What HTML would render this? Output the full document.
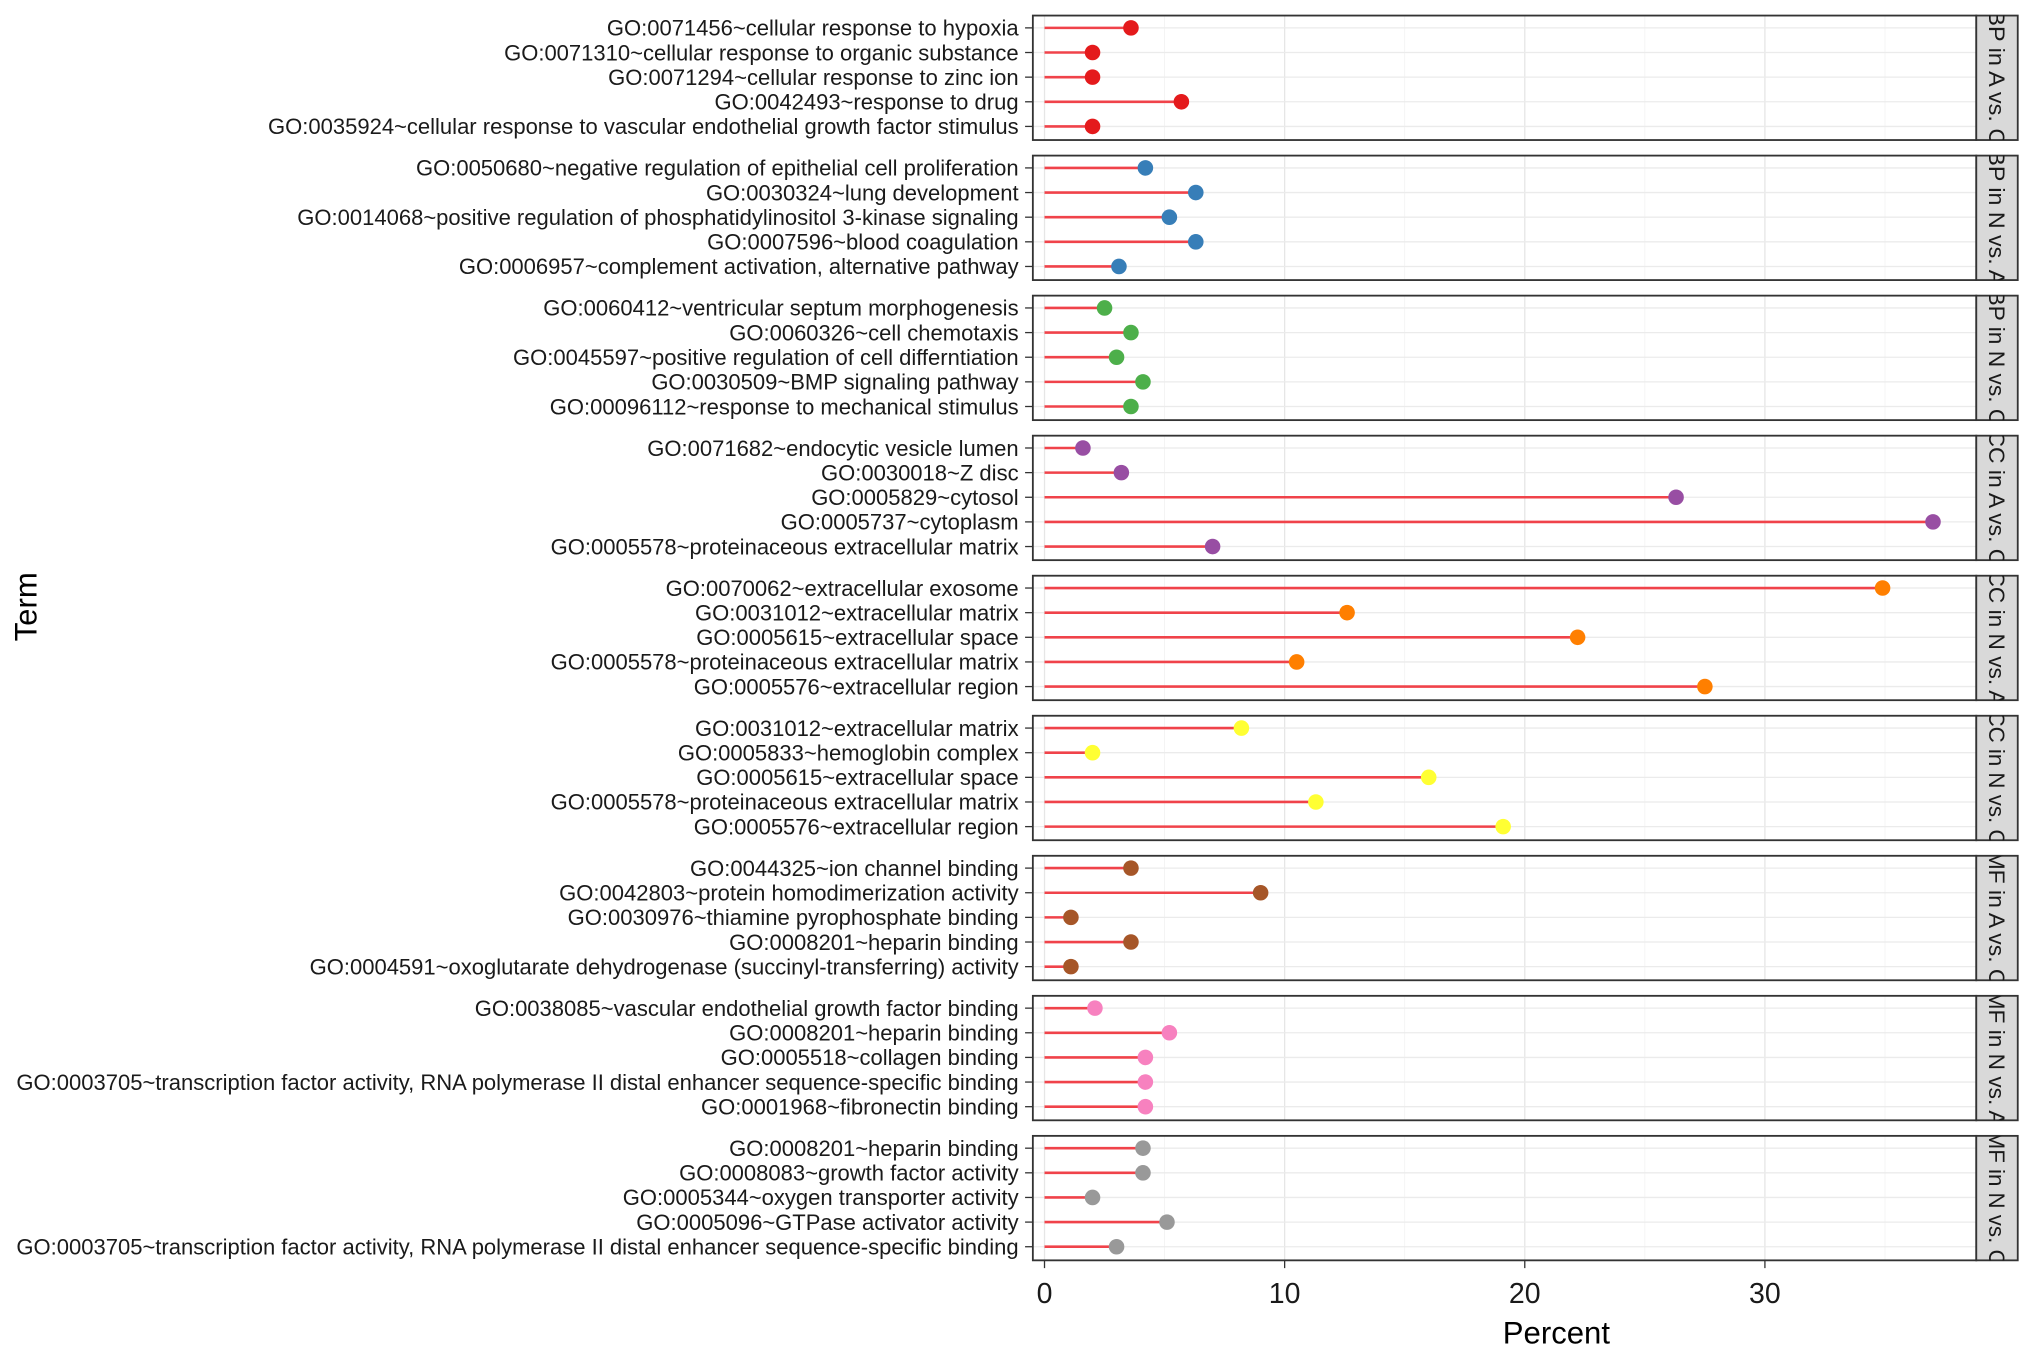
<!DOCTYPE html>
<html><head><meta charset="utf-8"><style>html,body{margin:0;padding:0;background:#fff}svg{display:block}</style></head>
<body>
<svg id="chart" width="2032" height="1355" viewBox="0 0 1568 1045" preserveAspectRatio="none" xmlns="http://www.w3.org/2000/svg" font-family="Liberation Sans, Arial, sans-serif"></svg>
<script>
const panels = ["BP in A vs. C","BP in N vs. A","BP in N vs. C","CC in A vs. C","CC in N vs. A","CC in N vs. C","MF in A vs. C","MF in N vs. A","MF in N vs. C"];
const colors = ["#e41a1c","#377eb8","#4daf4a","#984ea3","#ff7f00","#ffff33","#a65628","#f781bf","#999999"];
const terms = [
["GO:0071456~cellular response to hypoxia","GO:0071310~cellular response to organic substance","GO:0071294~cellular response to zinc ion","GO:0042493~response to drug","GO:0035924~cellular response to vascular endothelial growth factor stimulus"],
["GO:0050680~negative regulation of epithelial cell proliferation","GO:0030324~lung development","GO:0014068~positive regulation of phosphatidylinositol 3-kinase signaling","GO:0007596~blood coagulation","GO:0006957~complement activation, alternative pathway"],
["GO:0060412~ventricular septum morphogenesis","GO:0060326~cell chemotaxis","GO:0045597~positive regulation of cell differntiation","GO:0030509~BMP signaling pathway","GO:00096112~response to mechanical stimulus"],
["GO:0071682~endocytic vesicle lumen","GO:0030018~Z disc","GO:0005829~cytosol","GO:0005737~cytoplasm","GO:0005578~proteinaceous extracellular matrix"],
["GO:0070062~extracellular exosome","GO:0031012~extracellular matrix","GO:0005615~extracellular space","GO:0005578~proteinaceous extracellular matrix","GO:0005576~extracellular region"],
["GO:0031012~extracellular matrix","GO:0005833~hemoglobin complex","GO:0005615~extracellular space","GO:0005578~proteinaceous extracellular matrix","GO:0005576~extracellular region"],
["GO:0044325~ion channel binding","GO:0042803~protein homodimerization activity","GO:0030976~thiamine pyrophosphate binding","GO:0008201~heparin binding","GO:0004591~oxoglutarate dehydrogenase (succinyl-transferring) activity"],
["GO:0038085~vascular endothelial growth factor binding","GO:0008201~heparin binding","GO:0005518~collagen binding","GO:0003705~transcription factor activity, RNA polymerase II distal enhancer sequence-specific binding","GO:0001968~fibronectin binding"],
["GO:0008201~heparin binding","GO:0008083~growth factor activity","GO:0005344~oxygen transporter activity","GO:0005096~GTPase activator activity","GO:0003705~transcription factor activity, RNA polymerase II distal enhancer sequence-specific binding"]
];
const values = [
[3.6,2.0,2.0,5.7,2.0],
[4.2,6.3,5.2,6.3,3.1],
[2.5,3.6,3.0,4.1,3.6],
[1.6,3.2,26.3,37.0,7.0],
[34.9,12.6,22.2,10.5,27.5],
[8.2,2.0,16.0,11.3,19.1],
[3.6,9.0,1.1,3.6,1.1],
[2.1,5.2,4.2,4.2,4.2],
[4.1,4.1,2.0,5.1,3.0]
];
const xTicks = [0,10,20,30];

const svg = document.getElementById('chart');
const NS = 'http://www.w3.org/2000/svg';
function mk(tag, attrs, parent){const e=document.createElementNS(NS,tag);for(const k in attrs)e.setAttribute(k,attrs[k]);(parent||svg).appendChild(e);return e;}
const PL=797, PR=1525, SW=32;
const x = v => 806 + v*18.53;
const panelTop = k => 12 + k*108;
const PH = 96;
const rowY = (k,i) => panelTop(k) + 9.5 + i*19;
const defs = mk('defs',{});

panels.forEach((p,k)=>{
  const g = mk('g',{});
  
  
  const t = panelTop(k);
  mk('rect',{x:PL,y:t,width:PR-PL,height:PH,fill:'#fff'},g);
  for(let v=5; v<=35; v+=5){
    mk('line',{x1:x(v),x2:x(v),y1:t,y2:t+PH,stroke:v%10===0?'#e6e6e6':'#f2f2f2','stroke-width':v%10===0?1:0.6},g);
  }
  mk('line',{x1:x(0),x2:x(0),y1:t,y2:t+PH,stroke:'#e6e6e6','stroke-width':1},g);
  terms[k].forEach((lab,i)=>{
    const y=rowY(k,i);
    mk('line',{x1:PL,x2:PR,y1:y,y2:y,stroke:'#ebebeb','stroke-width':1},g);
  });
  terms[k].forEach((lab,i)=>{
    const y=rowY(k,i);
    const seg=mk('line',{x1:x(0),x2:x(values[k][i]),y1:y,y2:y,stroke:'#f0434a','stroke-width':2},g);
    
    
    const c=mk('circle',{cx:x(values[k][i]),cy:y,r:6,fill:colors[k]},g);
    
    
    mk('line',{x1:791,x2:797,y1:y,y2:y,stroke:'#333','stroke-width':1},g);
    const tx=mk('text',{x:786,y:y+6,'text-anchor':'end','font-size':17,fill:'#1a1a1a'},g);
    tx.textContent=lab;
    
    
  });
  mk('rect',{x:PL,y:t,width:PR-PL,height:PH,fill:'none',stroke:'#333','stroke-width':1.4},g);
  const s=mk('rect',{x:PR,y:t,width:SW,height:PH,fill:'#d9d9d9',stroke:'#333','stroke-width':1.4},g);
  
  
  const cp=mk('clipPath',{id:'clip'+k},defs);
  mk('rect',{x:PR,y:t,width:SW,height:PH},cp);
  const sg=mk('g',{'clip-path':`url(#clip${k})`},g);
  const st=mk('text',{x:0,y:0,'font-size':17,fill:'#1a1a1a','text-anchor':'middle',textLength:104,lengthAdjust:'spacingAndGlyphs',transform:`translate(${PR+SW/2-6},${t+PH/2}) rotate(90)`},sg);
  st.textContent=p;
  
  
});
const axisBottom = panelTop(8)+PH;
xTicks.forEach(v=>{
  mk('line',{x1:x(v),x2:x(v),y1:axisBottom,y2:axisBottom+6,stroke:'#333','stroke-width':1});
  const tl=mk('text',{x:x(v),y:axisBottom+33,'text-anchor':'middle','font-size':22,fill:'#1a1a1a'});
  tl.textContent=v;
  
  
});
const xt=mk('text',{x:1201,y:1036,'text-anchor':'middle','font-size':24,fill:'#000'});
xt.textContent='Percent';


const yt=mk('text',{x:0,y:0,'text-anchor':'middle','font-size':24,fill:'#000',transform:'translate(28,468) rotate(-90)'});
yt.textContent='Term';


</script>
</body></html>
